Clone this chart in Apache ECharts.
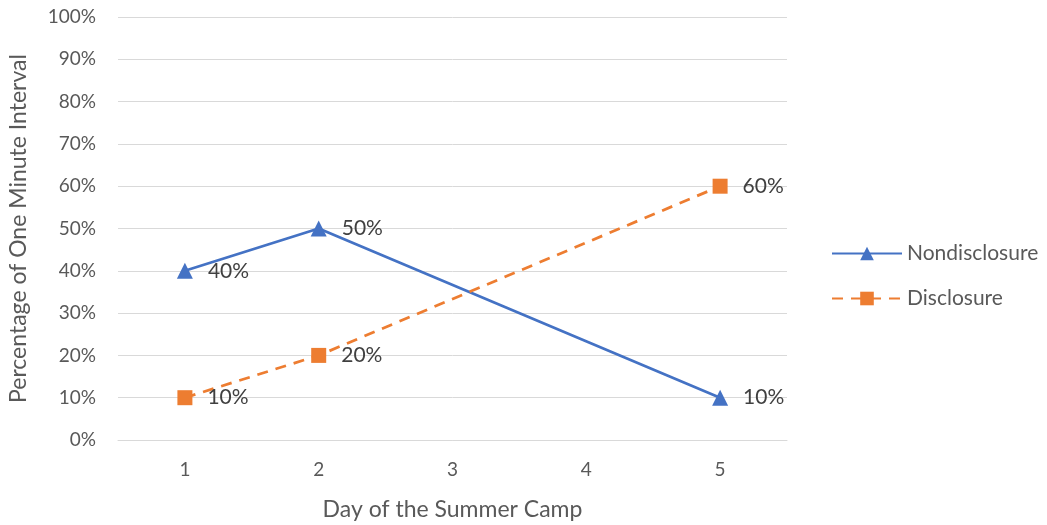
<!DOCTYPE html>
<html>
<head>
<meta charset="utf-8">
<script src="https://cdn.jsdelivr.net/npm/echarts@6/dist/echarts.min.js"></script>
<style>
  html, body { margin: 0; padding: 0; background: #fff; }
  #chart { width: 1047px; height: 525px; }
</style>
</head>
<body>
<div id="chart"></div>
<script>
// Days of the summer camp (days 3 and 4 have no observation)
const days = ['1', '2', '3', '4', '5'];
const nondisclosure = [40, 50, null, null, 10];
const disclosure = [10, 20, null, null, 60];
const yTicks = [0, 10, 20, 30, 40, 50, 60, 70, 80, 90, 100];

const FONT = 'Lato, "Open Sans", sans-serif';
const TEXT = '#595959';

const chart = echarts.init(document.getElementById('chart'));

const pctLabel = {
  show: true,
  position: 'right',
  distance: 15,
  formatter: p => p.value + '%',
  color: '#404040',
  fontSize: 21,
  fontFamily: FONT
};

chart.setOption({
  animation: false,
  grid: { left: 118, right: 260, top: 17, bottom: 85, outerBoundsMode: 'none', containLabel: false },
  legend: {
    orient: 'vertical',
    left: 826,
    top: 238,
    itemWidth: 70,
    itemHeight: 17,
    itemGap: 24,
    textStyle: { color: TEXT, fontSize: 21, fontFamily: FONT },
    data: ['Nondisclosure', 'Disclosure']
  },
  xAxis: {
    type: 'category',
    data: days,
    boundaryGap: true,
    name: 'Day of the Summer Camp',
    nameLocation: 'middle',
    nameGap: 58,
    nameTextStyle: { color: TEXT, fontSize: 23, fontFamily: FONT },
    axisLine: { lineStyle: { color: '#d9d9d9', width: 1 } },
    axisTick: { show: false },
    axisLabel: { color: TEXT, fontSize: 19, fontFamily: FONT, margin: 20 }
  },
  yAxis: {
    type: 'value',
    min: yTicks[0],
    max: yTicks[yTicks.length - 1],
    interval: 10,
    name: 'Percentage of One Minute Interval',
    nameLocation: 'middle',
    nameGap: 88,
    nameTextStyle: { color: TEXT, fontSize: 23, fontFamily: FONT },
    axisLine: { show: false },
    axisTick: { show: false },
    splitLine: { lineStyle: { color: '#d9d9d9', width: 1 } },
    axisLabel: { color: TEXT, fontSize: 19, fontFamily: FONT, margin: 22, formatter: v => v + '%' }
  },
  series: [
    {
      name: 'Nondisclosure',
      type: 'line',
      data: nondisclosure,
      connectNulls: true,
      symbol: 'triangle',
      symbolSize: 16,
      lineStyle: { color: '#4472c4', width: 2.75 },
      itemStyle: { color: '#4472c4' },
      label: pctLabel
    },
    {
      name: 'Disclosure',
      type: 'line',
      data: disclosure,
      connectNulls: true,
      symbol: 'rect',
      symbolSize: 15,
      lineStyle: { color: '#ed7d31', width: 2.75, type: [11, 8] },
      itemStyle: { color: '#ed7d31' },
      label: pctLabel
    }
  ]
});
</script>
</body>
</html>
